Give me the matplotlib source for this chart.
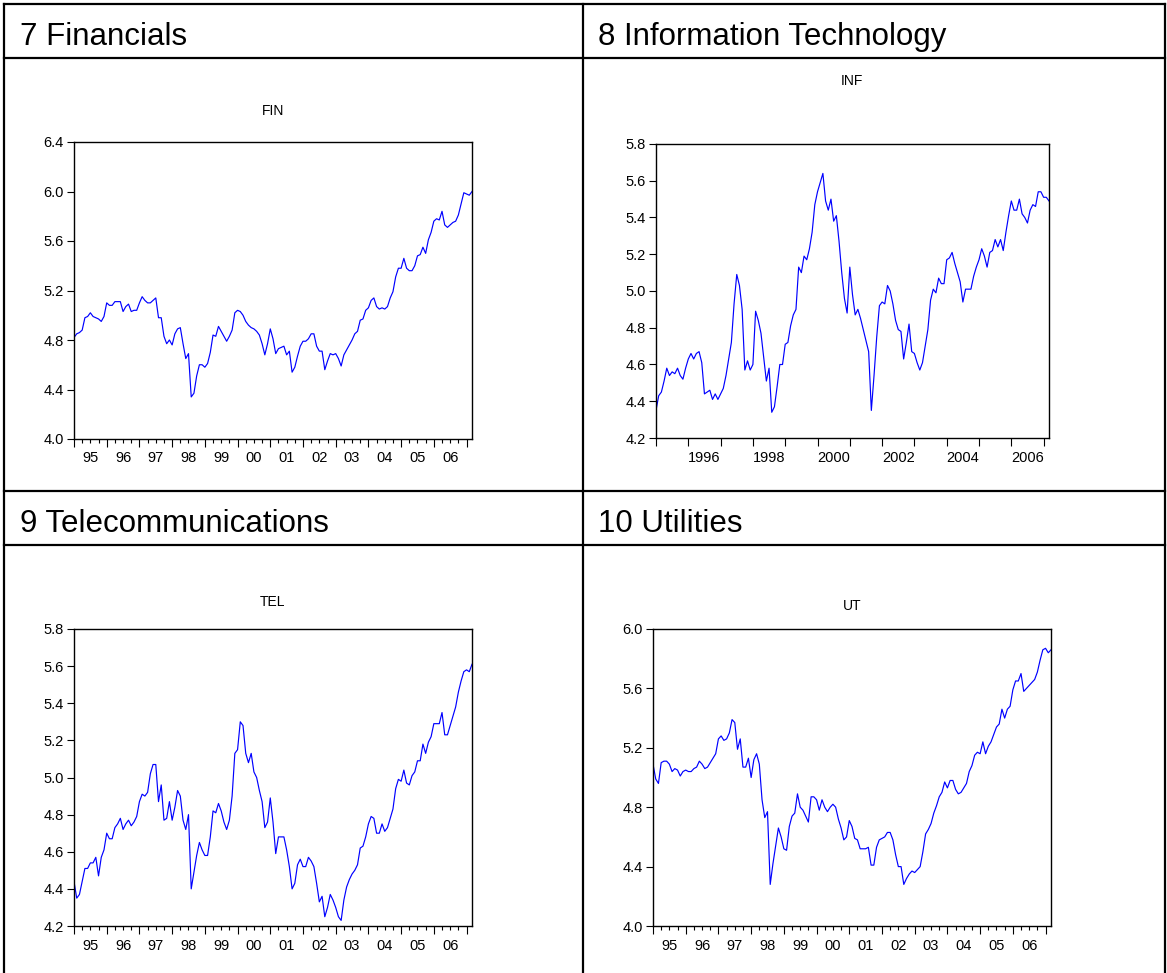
import numpy as np
import matplotlib
matplotlib.use("Agg")
import matplotlib.pyplot as plt
from matplotlib.lines import Line2D
from matplotlib.ticker import FixedLocator, FixedFormatter, NullFormatter

plt.rcParams['font.family'] = ['Liberation Sans', 'DejaVu Sans']

# ---------------- data (monthly, 1995M01 .. 2007M03) ----------------
start_year = 1995
sections = ["7 Financials", "8 Information Technology", "9 Telecommunications", "10 Utilities"]
series_names = ["FIN", "INF", "TEL", "UT"]

fin = [4.82, 4.85, 4.86, 4.88, 4.98, 4.99, 5.02, 4.99, 4.98, 4.97, 4.95, 4.99,
       5.10, 5.08, 5.08, 5.11, 5.11, 5.11, 5.03, 5.07, 5.09, 5.03, 5.04, 5.04,
       5.10, 5.15, 5.12, 5.10, 5.10, 5.12, 5.14, 4.98, 4.98, 4.83, 4.77, 4.80,
       4.76, 4.85, 4.89, 4.90, 4.77, 4.65, 4.69, 4.34, 4.37, 4.51, 4.60, 4.60,
       4.58, 4.61, 4.70, 4.84, 4.83, 4.91, 4.87, 4.83, 4.79, 4.83, 4.88, 5.02,
       5.04, 5.03, 5.00, 4.95, 4.92, 4.90, 4.89, 4.87, 4.84, 4.77, 4.68, 4.77,
       4.89, 4.81, 4.69, 4.73, 4.74, 4.75, 4.68, 4.71, 4.54, 4.58, 4.67, 4.75,
       4.79, 4.79, 4.81, 4.85, 4.85, 4.75, 4.71, 4.71, 4.56, 4.63, 4.69, 4.68,
       4.69, 4.65, 4.59, 4.68, 4.72, 4.76, 4.80, 4.85, 4.87, 4.96, 4.97, 5.04,
       5.06, 5.12, 5.14, 5.07, 5.05, 5.06, 5.05, 5.07, 5.14, 5.19, 5.31, 5.38,
       5.38, 5.46, 5.38, 5.36, 5.36, 5.40, 5.48, 5.49, 5.55, 5.50, 5.61, 5.67,
       5.76, 5.78, 5.77, 5.84, 5.73, 5.71, 5.73, 5.75, 5.76, 5.81, 5.90, 5.99,
       5.98, 5.97, 6.00]

inf = [4.35, 4.43, 4.45, 4.51, 4.58, 4.54, 4.56, 4.55, 4.58, 4.54, 4.52, 4.58,
       4.63, 4.66, 4.63, 4.66, 4.67, 4.61, 4.44, 4.45, 4.46, 4.41, 4.44, 4.41,
       4.44, 4.47, 4.54, 4.63, 4.72, 4.93, 5.09, 5.03, 4.90, 4.57, 4.62, 4.57,
       4.60, 4.89, 4.84, 4.77, 4.64, 4.51, 4.58, 4.34, 4.37, 4.48, 4.60, 4.60,
       4.71, 4.72, 4.81, 4.87, 4.90, 5.13, 5.10, 5.19, 5.17, 5.23, 5.32, 5.47,
       5.54, 5.59, 5.64, 5.49, 5.44, 5.50, 5.38, 5.41, 5.27, 5.10, 4.96, 4.88,
       5.13, 4.98, 4.87, 4.90, 4.85, 4.79, 4.73, 4.67, 4.35, 4.54, 4.75, 4.92,
       4.94, 4.93, 5.03, 5.00, 4.93, 4.84, 4.79, 4.78, 4.63, 4.72, 4.82, 4.67,
       4.66, 4.61, 4.57, 4.61, 4.70, 4.79, 4.95, 5.01, 4.99, 5.07, 5.04, 5.04,
       5.17, 5.18, 5.21, 5.15, 5.10, 5.05, 4.94, 5.01, 5.01, 5.01, 5.08, 5.13,
       5.17, 5.23, 5.19, 5.13, 5.21, 5.22, 5.28, 5.24, 5.28, 5.22, 5.32, 5.41,
       5.49, 5.44, 5.44, 5.50, 5.42, 5.40, 5.37, 5.44, 5.47, 5.46, 5.54, 5.54,
       5.51, 5.51, 5.49]

tel = [4.44, 4.35, 4.37, 4.44, 4.51, 4.51, 4.54, 4.54, 4.57, 4.47, 4.57, 4.61,
       4.70, 4.67, 4.67, 4.73, 4.75, 4.78, 4.72, 4.75, 4.77, 4.74, 4.76, 4.79,
       4.87, 4.91, 4.90, 4.92, 5.02, 5.07, 5.07, 4.87, 4.96, 4.77, 4.78, 4.87,
       4.77, 4.84, 4.93, 4.90, 4.77, 4.72, 4.80, 4.40, 4.49, 4.58, 4.65, 4.61,
       4.58, 4.58, 4.68, 4.82, 4.81, 4.86, 4.82, 4.76, 4.72, 4.77, 4.90, 5.13,
       5.15, 5.30, 5.28, 5.13, 5.08, 5.13, 5.03, 5.00, 4.93, 4.87, 4.73, 4.76,
       4.89, 4.76, 4.59, 4.68, 4.68, 4.68, 4.61, 4.52, 4.40, 4.43, 4.53, 4.56,
       4.52, 4.52, 4.57, 4.55, 4.52, 4.43, 4.33, 4.36, 4.25, 4.30, 4.37, 4.34,
       4.30, 4.25, 4.23, 4.34, 4.41, 4.45, 4.48, 4.50, 4.53, 4.62, 4.63, 4.68,
       4.75, 4.79, 4.78, 4.70, 4.70, 4.75, 4.71, 4.73, 4.78, 4.83, 4.94, 4.99,
       4.98, 5.04, 4.97, 4.96, 5.01, 5.03, 5.09, 5.09, 5.18, 5.13, 5.19, 5.22,
       5.29, 5.29, 5.29, 5.35, 5.23, 5.23, 5.28, 5.33, 5.38, 5.46, 5.52, 5.57,
       5.58, 5.57, 5.61]

ut = [5.09, 4.99, 4.96, 5.10, 5.11, 5.11, 5.09, 5.04, 5.06, 5.05, 5.01, 5.04,
      5.05, 5.04, 5.04, 5.06, 5.07, 5.11, 5.09, 5.06, 5.07, 5.10, 5.13, 5.16,
      5.26, 5.28, 5.25, 5.26, 5.30, 5.39, 5.37, 5.19, 5.26, 5.07, 5.07, 5.13,
      5.00, 5.12, 5.16, 5.09, 4.85, 4.73, 4.77, 4.28, 4.42, 4.54, 4.66, 4.60,
      4.52, 4.51, 4.67, 4.74, 4.76, 4.89, 4.80, 4.78, 4.74, 4.70, 4.87, 4.87,
      4.85, 4.78, 4.85, 4.80, 4.77, 4.80, 4.82, 4.80, 4.72, 4.66, 4.58, 4.60,
      4.71, 4.67, 4.59, 4.58, 4.52, 4.52, 4.52, 4.53, 4.41, 4.41, 4.53, 4.58,
      4.59, 4.60, 4.63, 4.63, 4.58, 4.48, 4.40, 4.40, 4.28, 4.32, 4.35, 4.37,
      4.36, 4.38, 4.40, 4.50, 4.62, 4.65, 4.69, 4.76, 4.81, 4.87, 4.90, 4.97,
      4.93, 4.98, 4.98, 4.92, 4.89, 4.90, 4.93, 4.96, 5.04, 5.08, 5.15, 5.17,
      5.16, 5.24, 5.16, 5.21, 5.24, 5.29, 5.34, 5.36, 5.46, 5.40, 5.46, 5.48,
      5.59, 5.65, 5.65, 5.70, 5.58, 5.60, 5.62, 5.64, 5.66, 5.71, 5.79, 5.86,
      5.87, 5.84, 5.86]

yticks_fin = [4.0, 4.4, 4.8, 5.2, 5.6, 6.0, 6.4]
yticks_inf = [4.2, 4.4, 4.6, 4.8, 5.0, 5.2, 5.4, 5.6, 5.8]
yticks_tel = [4.2, 4.4, 4.6, 4.8, 5.0, 5.2, 5.4, 5.6, 5.8]
yticks_ut = [4.0, 4.4, 4.8, 5.2, 5.6, 6.0]
short_year_labels = ["95", "96", "97", "98", "99", "00", "01", "02", "03", "04", "05", "06"]
long_year_labels = ["1996", "1998", "2000", "2002", "2004", "2006"]

# ---------------- figure ----------------
W, H = 1167, 973
fig = plt.figure(figsize=(W / 100, H / 100), dpi=100)
fig.patch.set_facecolor("white")


def fx(px):
    return px / W


def fy(py):
    return 1 - py / H


# table grid
lw_tab = 1.6
for (x0, y0, x1, y1) in [(4, 4, 1165, 4), (4, 58, 1165, 58), (4, 491, 1165, 491),
                         (4, 545, 1165, 545), (4, 4, 4, 980), (583, 4, 583, 980),
                         (1165, 4, 1165, 980)]:
    fig.add_artist(Line2D([fx(x0), fx(x1)], [fy(y0), fy(y1)], transform=fig.transFigure,
                          color="black", lw=lw_tab, solid_capstyle="projecting"))

# section headings
for txt, (px, py) in zip(sections, [(20, 45), (598, 45), (20, 532), (598, 532)]):
    fig.text(fx(px), fy(py), txt, fontsize=22.5, va="baseline", ha="left", color="black")

# panel definitions: (values, yticks, rect px (l, t, r, b), title pos, style)
panels = [
    (fin, yticks_fin, (74, 142, 472, 439), (273, 111), "short"),
    (inf, yticks_inf, (656, 144, 1049, 438), (852, 81), "long"),
    (tel, yticks_tel, (74, 629, 472, 926), (273, 602), "short"),
    (ut, yticks_ut, (653, 629, 1051, 926), (852, 606), "short"),
]

for (vals, yt, (l, t, r, b), (tx, ty), style), name in zip(panels, series_names):
    ax = fig.add_axes([fx(l), fy(b), fx(r - l), (b - t) / H])
    x = np.arange(len(vals))
    ax.plot(x, vals, color="#0000ff", lw=0.85)
    ax.set_xlim(0, len(vals) - 1)
    ax.set_ylim(yt[0], yt[-1])
    ax.set_yticks(yt)
    ax.set_yticklabels([f"{v:.1f}" for v in yt])
    ax.tick_params(axis="y", direction="out", length=5, width=0.8, pad=2.5, labelsize=10.5)
    nyears = (len(vals) - 1) // 12 + 1
    year_pos = [12 * k for k in range(nyears + 1) if 12 * k <= len(vals) - 1]
    if style == "short":
        ax.xaxis.set_major_locator(FixedLocator(year_pos))
        ax.xaxis.set_major_formatter(NullFormatter())
        minor_pos = [p for p in range(0, len(vals), 3) if p % 12 != 0]
        minor_lab = []
        for p in minor_pos:
            if p % 12 == 6 and p // 12 < len(short_year_labels):
                minor_lab.append(short_year_labels[p // 12])
            else:
                minor_lab.append("")
        ax.xaxis.set_minor_locator(FixedLocator(minor_pos))
        ax.xaxis.set_minor_formatter(FixedFormatter(minor_lab))
        ax.tick_params(axis="x", which="major", direction="out", length=6, width=0.8)
        ax.tick_params(axis="x", which="minor", direction="out", length=3, width=0.8,
                       pad=6, labelsize=10.5)
    else:
        ax.xaxis.set_major_locator(FixedLocator(year_pos))
        ax.xaxis.set_major_formatter(NullFormatter())
        lab_pos = [12 * (int(s) - start_year) + 6 for s in long_year_labels]
        ax.xaxis.set_minor_locator(FixedLocator(lab_pos))
        ax.xaxis.set_minor_formatter(FixedFormatter(long_year_labels))
        ax.tick_params(axis="x", which="major", direction="out", length=6, width=0.8)
        ax.tick_params(axis="x", which="minor", direction="out", length=0, pad=9,
                       labelsize=10.5)
    for sp in ax.spines.values():
        sp.set_linewidth(1.0)
        sp.set_color("black")
    fig.text(fx(tx), fy(ty), name, fontsize=10, ha="center", va="center")

fig.savefig("out.png", dpi=100, facecolor="white")
